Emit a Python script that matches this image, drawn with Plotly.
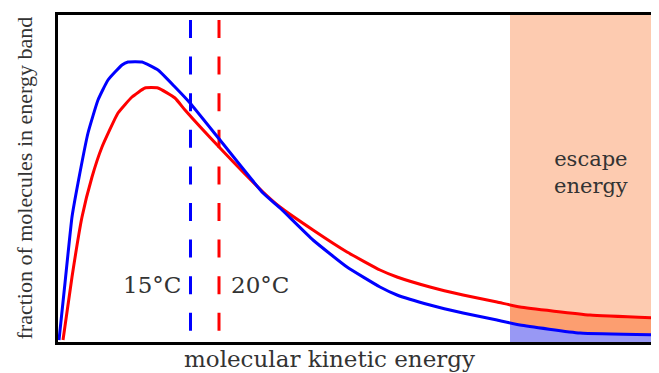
import numpy as np
import plotly.graph_objects as go

# Energy axis in arbitrary units; fraction in arbitrary units
energy_15 = [0, 6, 13, 19, 29, 39, 49, 63, 69, 83, 99, 116, 131, 161, 204, 221, 254, 288, 321, 338, 371, 404, 438, 461, 521, 600]
frac_15 = [2, 59, 125, 159, 209, 242, 262, 277, 280, 280, 272, 255, 239, 202, 149, 134, 102, 75, 55, 47, 37, 29, 22, 17, 9, 7]

energy_20 = [4, 13, 23, 33, 43, 59, 73, 86, 99, 116, 126, 161, 204, 221, 254, 288, 321, 338, 371, 404, 438, 461, 531, 600]
frac_20 = [2, 65, 125, 165, 195, 229, 245, 254, 254, 244, 232, 194, 150, 135, 112, 90, 72, 65, 55, 47, 40, 35, 27, 24]

mean_15 = 131.5
mean_20 = 160
escape_energy = 451
labels = ["15°C", "20°C"]

BLUE = "#0000FF"
RED = "#FF0000"
TXT = "#333333"

fig = go.Figure()


def tail(xs, ys, x0):
    xs = np.asarray(xs, float)
    ys = np.asarray(ys, float)
    keep = xs > x0
    return np.concatenate([[x0], xs[keep]]), np.concatenate([[np.interp(x0, xs, ys)], ys[keep]])


e20, f20 = tail(energy_20, frac_20, escape_energy)
e15, f15 = tail(energy_15, frac_15, escape_energy)

fig.add_trace(go.Scatter(x=e20, y=f20, mode="lines", line=dict(width=0),
                         fill="tozeroy", fillcolor="#FC9E70", hoverinfo="skip", showlegend=False))
fig.add_trace(go.Scatter(x=e15, y=f15, mode="lines", line=dict(width=0),
                         fill="tozeroy", fillcolor="#9898F4", hoverinfo="skip", showlegend=False))

fig.add_trace(go.Scatter(x=energy_20, y=frac_20, mode="lines",
                         line=dict(color=RED, width=3, shape="spline", smoothing=0.4), showlegend=False))
fig.add_trace(go.Scatter(x=energy_15, y=frac_15, mode="lines",
                         line=dict(color=BLUE, width=3, shape="spline", smoothing=0.4), showlegend=False))

shapes = [
    dict(type="rect", xref="x", yref="paper", x0=escape_energy, x1=620, y0=0, y1=1,
         fillcolor="#FDCBB0", line=dict(width=0), layer="below"),
    dict(type="line", xref="x", yref="y", x0=mean_15, x1=mean_15, y0=322, y1=10,
         line=dict(color=BLUE, width=3, dash="18px,18.6px"), layer="below"),
    dict(type="line", xref="x", yref="y", x0=mean_20, x1=mean_20, y0=322, y1=10,
         line=dict(color=RED, width=3, dash="18px,18.6px"), layer="below"),
]

font_h = dict(family="DejaVu Serif", size=23, color=TXT)
annotations = [
    dict(x=mean_15 - 7.5, y=57, xref="x", yref="y", text=labels[0], showarrow=False,
         xanchor="right", yanchor="middle", font=font_h),
    dict(x=mean_20 + 10, y=57, xref="x", yref="y", text=labels[1], showarrow=False,
         xanchor="left", yanchor="middle", font=font_h),
    dict(x=532, y=170, xref="x", yref="y", text="escape<br>energy", showarrow=False,
         xanchor="center", yanchor="middle", align="center",
         font=dict(family="DejaVu Serif", size=21, color=TXT)),
    dict(x=270, y=0, xref="x", yref="paper", yshift=-17, text="molecular kinetic energy",
         showarrow=False, xanchor="center", yanchor="middle", font=font_h),
    dict(x=0, y=0.5, xref="paper", yref="paper", xshift=-34, text="fraction of molecules in energy band",
         textangle=-90, showarrow=False, xanchor="center", yanchor="middle",
         font=dict(family="Liberation Serif", size=22, color=TXT)),
]

fig.update_layout(
    width=651, height=365,
    margin=dict(l=50, r=0, t=7, b=31),
    paper_bgcolor="white", plot_bgcolor="white",
    shapes=shapes, annotations=annotations,
    xaxis=dict(range=[-1, 600], showgrid=False, zeroline=False, showticklabels=False, ticks="",
               showline=True, linecolor="black", linewidth=3, mirror=True),
    yaxis=dict(range=[0, 327], showgrid=False, zeroline=False, showticklabels=False, ticks="",
               showline=True, linecolor="black", linewidth=3, mirror=False),
)

fig.write_html("out.html")
